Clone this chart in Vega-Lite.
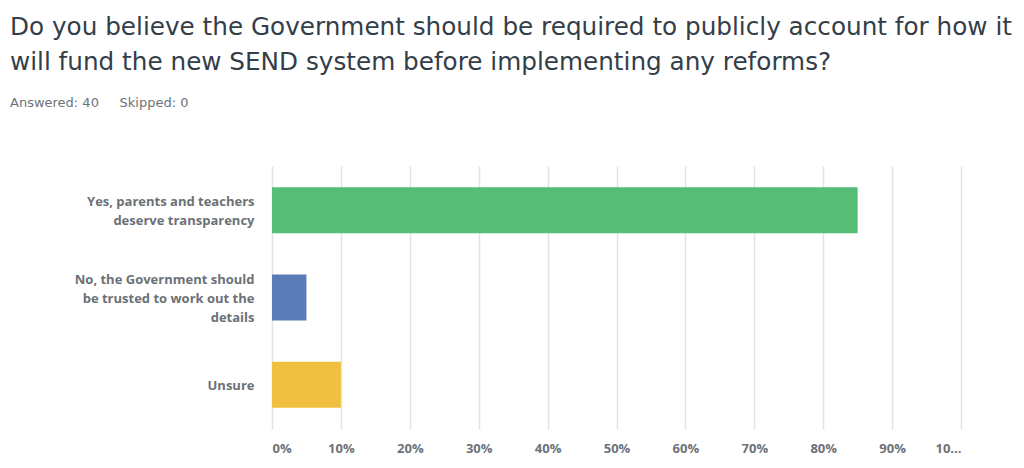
{
  "$schema": "https://vega.github.io/schema/vega-lite/v6.json",
  "autosize": "none",
  "padding": {"left": 272, "top": 166, "right": 63, "bottom": 39},
  "width": 689,
  "height": 263,
  "background": "white",
  "config": {"view": {"stroke": null}},
  "title": {
    "text": ["Do you believe the Government should be required to publicly account for how it", "will fund the new SEND system before implementing any reforms?"],
    "subtitle": "Answered: 40\u00a0\u00a0\u00a0\u00a0\u00a0Skipped: 0",
    "anchor": "start",
    "frame": "group",
    "dx": -262,
    "offset": 56,
    "font": "DejaVu Sans",
    "fontSize": 24.7,
    "fontWeight": "normal",
    "color": "#333e48",
    "lineHeight": 35,
    "subtitleFont": "DejaVu Sans",
    "subtitleFontSize": 13,
    "subtitleColor": "#6d7278",
    "subtitlePadding": 22
  },
  "data": {
    "values": [
      {"answer": "Yes, parents and teachers deserve transparency", "pct": 0.85},
      {"answer": "No, the Government should be trusted to work out the details", "pct": 0.05},
      {"answer": "Unsure", "pct": 0.10}
    ]
  },
  "mark": {"type": "bar"},
  "encoding": {
    "y": {
      "field": "answer",
      "type": "nominal",
      "sort": null,
      "scale": {"paddingInner": 0.474, "paddingOuter": 0.243},
      "axis": {
        "title": null,
        "domain": false,
        "ticks": false,
        "labelPadding": 18,
        "labelFont": "Open Sans",
        "labelFontSize": 13,
        "labelFontWeight": "bold",
        "labelColor": "#6b7177",
        "labelLineHeight": 19,
        "labelLimit": 260,
        "labelOffset": {
          "condition": [
            {"test": "datum.value == 'Unsure'", "value": 1},
            {"test": "indexof(datum.value, 'No,') == 0", "value": -18}
          ],
          "value": -8.5
        },
        "labelExpr": "datum.value == 'Yes, parents and teachers deserve transparency' ? ['Yes, parents and teachers', 'deserve transparency'] : datum.value == 'No, the Government should be trusted to work out the details' ? ['No, the Government should', 'be trusted to work out the', 'details'] : datum.value"
      }
    },
    "x": {
      "field": "pct",
      "type": "quantitative",
      "scale": {"domain": [0, 1], "nice": false},
      "axis": {
        "title": null,
        "format": ".0%",
        "values": [0, 0.1, 0.2, 0.3, 0.4, 0.5, 0.6, 0.7, 0.8, 0.9, 1],
        "labelExpr": "datum.value == 1 ? '10...' : datum.label",
        "labelOverlap": false,
        "domain": false,
        "ticks": false,
        "grid": true,
        "gridColor": "#e3e3e3",
        "gridWidth": 1.5,
        "labelPadding": 13,
        "labelFont": "Open Sans",
        "labelFontSize": 13,
        "labelFontWeight": "bold",
        "labelColor": "#6d7278"
      }
    },
    "color": {
      "field": "answer",
      "type": "nominal",
      "sort": null,
      "scale": {"range": ["#56bd77", "#5b7bb8", "#f0c041"]},
      "legend": null
    }
  }
}
